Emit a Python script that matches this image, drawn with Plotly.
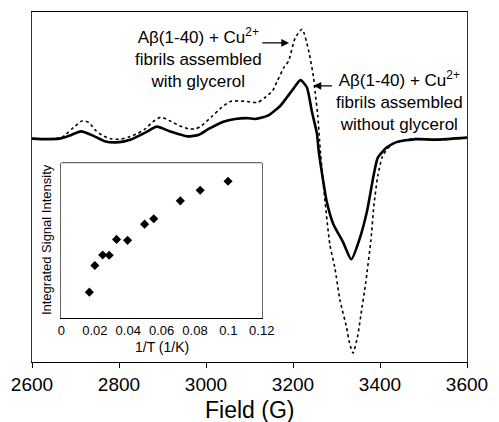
import plotly.graph_objects as go

# EPR spectra (field in G, intensity in arbitrary units)
field_without = [2600,2634,2663,2686,2713,2740,2767,2794,2826,2860,
                 2887,2916,2957,2984,3006,3040,3067,3097,3112,3142,
                 3171,3187,3203,3217,3232,3243,3255,3259,3273,3277,
                 3292,3315,3334,3352,3370,3386,3395,3415,3438,3483,
                 3528,3600]
signal_without = [0,-0.5,0,3,7.3,3,-2.5,-3.7,-1,6,
                  12,7.5,2.3,4,9.7,17,19.7,20.5,19.7,23,
                  33,42,51.3,58.7,51.3,28,5,-12,-52,-62,
                  -85,-103.7,-121,-102,-73,-35.3,-19,-9,-3.5,-0.5,
                  -1,1]

field_with = [2600,2645,2668,2679,2695,2716,2731,2747,2765,2783,
              2803,2821,2842,2860,2878,2896,2916,2939,2961,2977,
              2990,3013,3036,3058,3088,3119,3135,3153,3164,3180,
              3190,3205,3221,3236,3247,3251,3257,3261,3270,3285,
              3296,3308,3323,3330,3338,3349,3356,3367,3379,3386,
              3395,3405,3417,3435,3480,3526,3600]
signal_with = [0,0,1,4.7,11,18,16,8,2.5,-0.3,
               -0.5,1.3,5,9.7,17,21.5,18,13,9.7,10,
               13,22,31.3,37.5,37.5,36.3,41,48,58,72,
               78,101,109.7,88,62,46,23,-2,-47,-107,
               -129,-162,-189,-205,-215,-197,-177,-145,-102,-67,
               -37,-18.7,-10,-4,0,-1.5,1]

# Inset: integrated signal intensity vs 1/T
inv_T = [0.0167,0.020,0.0247,0.0286,0.0330,0.0396,0.0498,0.0553,0.0712,0.0831,0.0998]
integrated = [0.167,0.338,0.406,0.404,0.506,0.500,0.604,0.639,0.754,0.822,0.880]

main_ticks = [2600, 2800, 3000, 3200, 3400, 3600]
inset_ticks = [0, 0.02, 0.04, 0.06, 0.08, 0.1, 0.12]
inset_ticklabels = ["0", "0.02", "0.04", "0.06", "0.08", "0.1", "0.12"]

FONT = "Arial, Liberation Sans, sans-serif"

fig = go.Figure()
fig.add_trace(go.Scatter(x=field_with, y=signal_with, mode="lines",
                         line=dict(color="black", width=1.6, dash="dot", shape="spline", smoothing=0.6),
                         xaxis="x", yaxis="y", showlegend=False))
fig.add_trace(go.Scatter(x=field_without, y=signal_without, mode="lines",
                         line=dict(color="black", width=2.6, shape="spline", smoothing=0.6),
                         xaxis="x", yaxis="y", showlegend=False))
fig.add_trace(go.Scatter(x=inv_T, y=integrated, mode="markers",
                         marker=dict(symbol="diamond", size=7, color="black"),
                         xaxis="x2", yaxis="y2", showlegend=False))

W, H = 499, 422
L, R, T, B = 30, 26, 11, 60
pw, ph = W - L - R, H - T - B

def px(xp):
    return (xp - L) / pw

def py(yp):
    return (H - B - yp) / ph

fig.update_layout(
    width=W, height=H,
    margin=dict(l=L, r=R, t=T, b=B),
    paper_bgcolor="white", plot_bgcolor="white",
    font=dict(family=FONT, color="black"),
    xaxis=dict(range=[2600, 3600], tickvals=main_ticks, ticks="outside", ticklen=5,
               tickcolor="black", showline=True, linecolor="black", linewidth=1.2,
               mirror=True, showgrid=False, zeroline=False,
               tickfont=dict(size=19, family=FONT), domain=[0, 1]),
    yaxis=dict(range=[-224, 127], showticklabels=False, ticks="", showline=True,
               linecolor="#333", linewidth=1.2, mirror=True, showgrid=False,
               zeroline=False, domain=[0, 1]),
    xaxis2=dict(range=[0, 0.12], tickvals=inset_ticks, ticktext=inset_ticklabels,
                ticks="", showline=True, linecolor="black", linewidth=1.2,
                showgrid=False, zeroline=False, tickfont=dict(size=13, family=FONT),
                anchor="y2", domain=[px(60), px(264)]),
    yaxis2=dict(range=[0, 1], showticklabels=False, ticks="", showline=True,
                linecolor="#666", linewidth=1.2, mirror=True, showgrid=False,
                zeroline=False, anchor="x2", domain=[py(318), py(162)]),
    shapes=[dict(type="line", xref="x2 domain", yref="y2 domain", x0=0, x1=1, y0=1, y1=1,
                 line=dict(color="#666", width=1.2))],
)

annots = [
    dict(text="Field (G)", x=0.5, y=py(410), xref="paper", yref="paper",
         showarrow=False, font=dict(size=23, family=FONT), xanchor="center", yanchor="middle"),
    dict(text="1/T (1/K)", x=px(162), y=py(347), xref="paper", yref="paper",
         showarrow=False, font=dict(size=14, family=FONT), xanchor="center", yanchor="middle"),
    dict(text="Integrated Signal Intensity", x=px(45), y=py(239), xref="paper", yref="paper",
         showarrow=False, textangle=-90, font=dict(size=13, family=FONT),
         xanchor="center", yanchor="middle"),
    dict(text="A\u03b2(1-40) + Cu<sup>2+</sup><br>fibrils assembled<br>with glycerol",
         x=px(200), y=py(57), xref="paper", yref="paper", showarrow=False,
         font=dict(size=17, family=FONT), xanchor="center", yanchor="middle", align="center"),
    dict(text="A\u03b2(1-40) + Cu<sup>2+</sup><br>fibrils assembled<br>without glycerol",
         x=px(404), y=py(100), xref="paper", yref="paper", showarrow=False,
         font=dict(size=17, family=FONT), xanchor="center", yanchor="middle", align="center"),
    dict(text="", x=3191, y=96, ax=3126, ay=96, xref="x", yref="y", axref="x", ayref="y",
         showarrow=True, arrowhead=2, arrowsize=1.2, arrowwidth=1.3, arrowcolor="black"),
    dict(text="", x=3247, y=53, ax=3293, ay=53, xref="x", yref="y", axref="x", ayref="y",
         showarrow=True, arrowhead=2, arrowsize=1.2, arrowwidth=1.3, arrowcolor="black"),
]
fig.update_layout(annotations=annots)

# pin the graph to the window's top-left corner (no page margin, no scrolling)
pin = ("var d=document.getElementById('{plot_id}');"
       "d.style.position='fixed';d.style.left='0px';d.style.top='0px';"
       "document.body.style.margin='0px';document.body.style.overflow='hidden';")

fig.write_html("out.html", config={"displayModeBar": False}, post_script=pin)
